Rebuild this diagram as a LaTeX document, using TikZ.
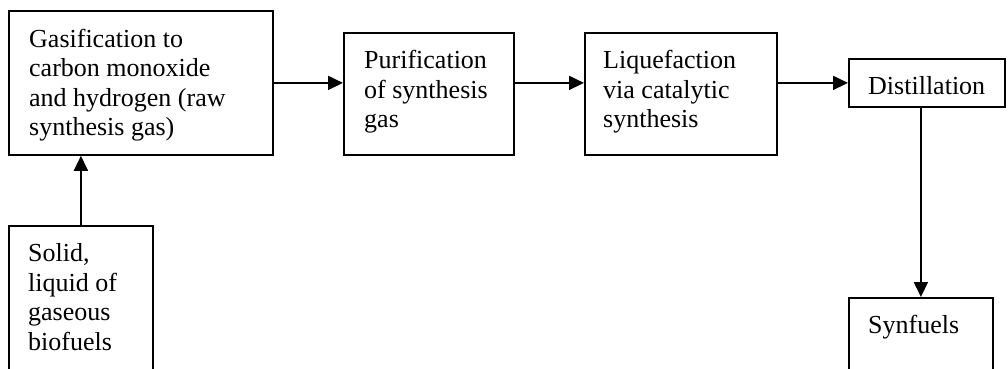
\documentclass[tikz,border=0pt]{standalone}
\usepackage{fontspec}
\setmainfont{Liberation Serif}
\usetikzlibrary{arrows.meta,calc}
\newcommand{\lines}[1]{\begin{tabular}[t]{@{}l@{}}#1\end{tabular}}
\begin{document}
\begin{tikzpicture}[x=1pt,y=-1pt,
  box/.style={draw, line width=1.8pt, rectangle, inner sep=0pt, anchor=north west},
  lbl/.style={anchor=base west, inner sep=0pt, font=\fontsize{26}{29.5}\selectfont},
  flow/.style={line width=1.8pt, -{Triangle[length=15pt,width=14pt]}}]
\clip (0,0) rectangle (1008,368);
\fill[white] (0,0) rectangle (1008,368);

% process boxes
\node[box, minimum width=264pt, minimum height=144pt] (gas) at (8,10) {};
\node[box, minimum width=170pt, minimum height=122pt] (pur) at (343,32) {};
\node[box, minimum width=192pt, minimum height=122pt] (liq) at (584,32) {};
\node[box, minimum width=156pt, minimum height=48pt]  (dis) at (848,58) {};
\node[box, minimum width=144pt, minimum height=170pt] (sol) at (8,225) {};
\node[box, minimum width=144pt, minimum height=120pt] (syn) at (848,297) {};

% box texts
\node[lbl] (gasT) at ($(gas.north west)+(21,37)$) {\lines{Gasification to\\carbon monoxide\\and hydrogen (raw\\synthesis gas)}};
\node[lbl] (purT) at ($(pur.north west)+(21,36.5)$) {\lines{Purification\\of synthesis\\gas}};
\node[lbl] (liqT) at ($(liq.north west)+(19,36.5)$) {\lines{Liquefaction\\via catalytic\\synthesis}};
\node[lbl] (disT) at ($(dis.north west)+(20,36)$) {Distillation};
\node[lbl] (solT) at ($(sol.north west)+(20,36.5)$) {\lines{Solid,\\liquid of\\gaseous\\biofuels}};
\node[lbl] (synT) at ($(syn.north west)+(20,36.5)$) {Synfuels};

% connectors
\draw[flow] (gas.east) -- (gas.east -| pur.west);
\draw[flow] (pur.east |- gas.east) -- (liq.west |- gas.east);
\draw[flow] (liq.east |- dis.west) -- (dis.west);
\draw[flow] (dis.south -| syn.north) -- (syn.north);
\draw[flow] (sol.north) -- (sol.north |- gas.south);
\end{tikzpicture}
\end{document}
